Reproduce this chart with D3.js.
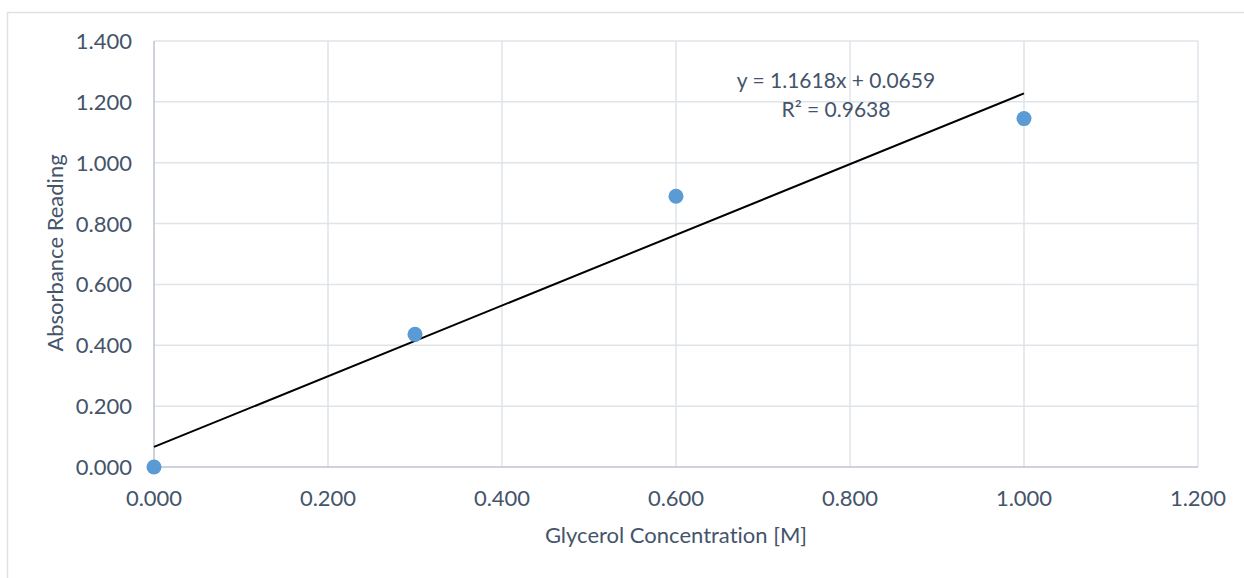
<!DOCTYPE html>
<html>
<head>
<meta charset="utf-8">
<script src="https://cdn.jsdelivr.net/npm/d3@7"></script>
<style>
  body { margin: 0; background: #fff; }
  text { font-family: Lato, "Open Sans", sans-serif; fill: #44546a; font-variant-ligatures: none; }
</style>
</head>
<body>
<script>
//data
var concentration = [0.000, 0.300, 0.600, 1.000];
var absorbance = [0.000, 0.436, 0.890, 1.145];
var xTicks = [0, 0.2, 0.4, 0.6, 0.8, 1.0, 1.2];
var yTicks = [0, 0.2, 0.4, 0.6, 0.8, 1.0, 1.2, 1.4];
var slope = 1.1618, intercept = 0.0659;
var equationLines = ["y = 1.1618x + 0.0659", "R² = 0.9638"];

var width = 1244, height = 578;
var margin = {left: 154, top: 41, right: 46, bottom: 111};
var fontSize = "22px";

var svg = d3.select("body").append("svg")
    .attr("width", width)
    .attr("height", height);

//outer chart frame
svg.append("rect")
    .attr("x", 7.5).attr("y", 12.5)
    .attr("width", width).attr("height", height)
    .attr("fill", "none")
    .attr("stroke", "#dde1e8")
    .attr("stroke-width", 1.5);

var x = d3.scaleLinear().domain([0, 1.2]).range([margin.left, width - margin.right]);
var y = d3.scaleLinear().domain([0, 1.4]).range([height - margin.bottom, margin.top]);

var fmt = d3.format(".3f");

//gridlines
svg.append("g").selectAll("line.v")
    .data(xTicks.slice(1))
    .enter().append("line")
    .attr("x1", function(d){ return x(d); })
    .attr("x2", function(d){ return x(d); })
    .attr("y1", y(0)).attr("y2", y(1.4))
    .attr("stroke", "#dfe3ea").attr("stroke-width", 1.5);

svg.append("g").selectAll("line.h")
    .data(yTicks.slice(1))
    .enter().append("line")
    .attr("x1", x(0)).attr("x2", x(1.2))
    .attr("y1", function(d){ return y(d); })
    .attr("y2", function(d){ return y(d); })
    .attr("stroke", "#dfe3ea").attr("stroke-width", 1.5);

//axis lines
svg.append("line")
    .attr("x1", x(0)).attr("x2", x(1.2))
    .attr("y1", y(0)).attr("y2", y(0))
    .attr("stroke", "#bcc3d0").attr("stroke-width", 1.5);
svg.append("line")
    .attr("x1", x(0)).attr("x2", x(0))
    .attr("y1", y(0)).attr("y2", y(1.4))
    .attr("stroke", "#bcc3d0").attr("stroke-width", 1.5);

//tick labels
svg.append("g").selectAll("text")
    .data(xTicks)
    .enter().append("text")
    .attr("x", function(d){ return x(d); })
    .attr("y", y(0) + 39)
    .attr("text-anchor", "middle")
    .style("font-size", fontSize)
    .text(fmt);

svg.append("g").selectAll("text")
    .data(yTicks)
    .enter().append("text")
    .attr("x", x(0) - 22)
    .attr("y", function(d){ return y(d) + 8; })
    .attr("text-anchor", "end")
    .style("font-size", fontSize)
    .text(fmt);

//axis titles
svg.append("text")
    .attr("x", 676)
    .attr("y", 543)
    .attr("text-anchor", "middle")
    .style("font-size", fontSize)
    .text("Glycerol Concentration [M]");

svg.append("text")
    .attr("transform", "translate(63,253) rotate(-90)")
    .attr("text-anchor", "middle")
    .style("font-size", fontSize)
    .text("Absorbance Reading");

//linear trendline
var line = d3.line()
    .x(function(d){ return x(d); })
    .y(function(d){ return y(slope * d + intercept); });
svg.append("path")
    .datum([0, 1.0])
    .attr("d", line)
    .attr("fill", "none")
    .attr("stroke", "#000")
    .attr("stroke-width", 2);

//points
svg.append("g").selectAll("circle")
    .data(concentration)
    .enter().append("circle")
    .attr("cx", function(d){ return x(d); })
    .attr("cy", function(d, i){ return y(absorbance[i]); })
    .attr("r", 7.5)
    .attr("fill", "#5b9bd5");

//equation label
svg.append("g").selectAll("text")
    .data(equationLines)
    .enter().append("text")
    .attr("x", 836)
    .attr("y", function(d, i){ return 88 + i * 29; })
    .attr("text-anchor", "middle")
    .style("font-size", "21px")
    .text(function(d){ return d; });
</script>
</body>
</html>
